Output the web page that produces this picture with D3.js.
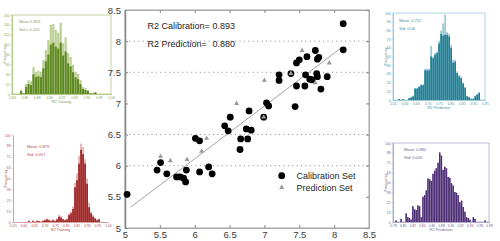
<!DOCTYPE html>
<html><head><meta charset="utf-8">
<script src="https://cdn.jsdelivr.net/npm/d3@7"></script>
<style>body{margin:0;background:#fff}svg{display:block}text{font-family:"Liberation Sans",Arial,sans-serif}</style>
</head><body>
<svg id="c" width="500" height="241"></svg>
<script>
// ---------- main scatter data ----------
const axisTicks = [5, 5.5, 6, 6.5, 7, 7.5, 8, 8.5];
const gridValues = [6, 6.5, 7.5, 8];
const calX = [5.03,5.46,5.51,5.60,5.74,5.79,5.84,5.87,5.88,6.01,6.07,6.07,6.20,6.25,6.43,6.48,6.51,6.65,6.66,6.76,6.74,6.81,6.78,6.99,7.03,7.06,7.44,7.21,7.21,7.38,7.46,7.58,7.59,7.65,7.68,7.75,7.76,7.90,7.81,7.46,7.50,7.61,7.76,7.78,7.73,8.13,8.13];
const calY = [5.54,5.93,6.05,5.87,5.82,5.82,5.80,5.74,5.93,6.44,6.40,5.90,5.98,5.87,6.64,6.56,6.78,6.26,6.43,6.43,6.59,6.57,6.88,6.78,7.01,6.96,6.95,7.46,7.37,7.48,7.28,7.28,7.46,7.39,7.38,7.48,7.43,7.43,7.23,7.65,7.70,7.75,7.71,7.74,7.85,8.28,7.86];
const predX = [5.51,5.65,5.89,6.17,6.10,6.60,6.99,7.00,7.38,7.54,7.93,7.73];
const predY = [6.15,6.08,6.10,6.44,6.23,7.00,6.78,7.37,7.48,7.85,7.65,7.33];
const fitCoef = [1.03, 0.847];      // intercept, slope
const fitRange = [5.08, 8.10];
const statLabels = ["R2 Calibration=", "R2 Prediction="];
const statValues = ["0.893", "0.880"];
const legendLabels = ["Calibration Set", "Prediction Set"];

// ---------- histogram data ----------
const greenLight = [8,2,20,28,26,55,45,47,45,69,89,109,140,142,130,124,144,103,115,83,75,59,45,41,28,14,12,8,2,2,4];
const greenDark  = [6,1,14,20,18,40,34,36,34,52,66,80,100,104,96,92,104,78,86,62,56,44,34,30,20,10,8,6,1,1,3];
const redLight = [0,2,0,2,1,2,1,1,2,3,4,3,2,3,2,4,8,7,4,3,4,10,12,18,45,56,76,90,86,72,50,22,12,8,5,3,4];
const redDark  = [0,1,0,1,0,1,1,0,1,2,3,2,1,2,1,3,6,5,3,2,3,8,10,15,40,48,67,83,78,67,44,17,10,6,4,2,3];
const tealLight = [1,0,1,0,0,2,3,5,14,14,16,18,18,36,36,36,62,50,54,56,68,80,88,98,78,76,63,46,46,33,29,27,20,15,5,4,2,2,5,7,9];
const tealDark  = [1,0,1,0,0,2,3,4,13,13,15,17,17,34,34,34,50,48,52,54,65,76,74,75,75,73,60,43,44,31,27,25,19,14,4,3,1,1,4,6,8];
const purpleCounts = [2,0,0,4,0,0,11,6,5,3,20,16,15,21,20,6,32,34,40,55,54,52,61,65,68,75,88,84,66,70,68,57,56,49,46,38,37,34,25,27,19,13,6,5,3,0,6,4,0,0,0,0,0,2];

const hists = [
  {box:[12,111,15,94], xDomain:[0.84,1.0], yMax:160, yStep:20, binStart:0.853, binWidth:0.004,
   light:greenLight, dark:greenDark, cLight:"#b9cf92", cDark:"#5f8a22", cAxis:"#b3c98c", cText:"#86a05a",
   mean:"Mean 0.893", std:"Std = 0.024", xlabel:"R2 Training", tx:7, ty:8, frame:true},
  {box:[13,108,135,222], xDomain:[0.55,1.0], yMax:100, yStep:12.5, binStart:0.612, binWidth:0.0095,
   light:redLight, dark:redDark, cLight:"#e2a9a9", cDark:"#9c1c1c", cAxis:"#d6a0a0", cText:"#b34848",
   mean:"Mean: 0.879", std:"Std: 0.057", xlabel:"R2 Training", tx:14, ty:13, frame:false},
  {box:[393,485,13,100], xDomain:[0.55,0.95], yMax:100, yStep:10, binStart:0.573, binWidth:0.0087,
   light:tealLight, dark:tealDark, cLight:"#93c8d4", cDark:"#1b7d93", cAxis:"#9ccbd6", cText:"#3f8fa2",
   mean:"Mean: 0.752", std:"Std: 0.06", xlabel:"R2 Prediction", tx:6, ty:9, frame:true},
  {box:[393,489,143,222], xDomain:[0.78,0.98], yMax:100, yStep:12.5, binStart:0.785, binWidth:0.0035,
   light:purpleCounts, dark:purpleCounts, cLight:"#8f7daf", cDark:"#4b2b73", cAxis:"#b2a6c8", cText:"#6d5f8f",
   mean:"Mean: 0.880", std:"Std: 0.026", xlabel:"R2 Prediction", tx:11, ty:8, frame:true}
];

const svg = d3.select("#c");

// ---------- histograms ----------
hists.forEach(h => {
  const [x0,x1,y0,y1] = h.box;
  const hx = d3.scaleLinear(h.xDomain, [x0, x1]);
  const hy = d3.scaleLinear([0, h.yMax], [y1, y0]);
  const g = svg.append("g");
  if (h.frame) {
    g.append("rect").attr("x",x0).attr("y",y0).attr("width",x1-x0).attr("height",y1-y0)
      .attr("fill","none").attr("stroke",h.cAxis).attr("stroke-width",0.8);
  }
  const bw = hx(h.binStart + h.binWidth) - hx(h.binStart);
  [[h.light,h.cLight],[h.dark,h.cDark]].forEach(([arr,col]) => {
    g.selectAll(null).data(arr).join("rect")
      .attr("x",(d,i)=>hx(h.binStart + i*h.binWidth))
      .attr("width",Math.max(bw-0.35,0.5))
      .attr("y",d=>hy(d)).attr("height",d=>hy(0)-hy(d))
      .attr("fill",col);
  });
  const xa = d3.axisBottom(hx).ticks(7).tickSize(1.5).tickSizeOuter(0).tickPadding(1);
  const ya = d3.axisLeft(hy).tickValues(d3.range(0,h.yMax+0.01,h.yStep)).tickSize(1.5).tickSizeOuter(0).tickPadding(1).tickFormat(d3.format(".0f"));
  const gx = g.append("g").attr("transform",`translate(0,${y1})`).call(xa);
  const gy = g.append("g").attr("transform",`translate(${x0},0)`).call(ya);
  [gx,gy].forEach(a=>{
    a.select(".domain").attr("stroke",h.cAxis);
    a.selectAll("line").attr("stroke",h.cAxis).attr("stroke-width",0.5);
    a.selectAll("text").attr("fill",h.cText).style("font-size","3.3px").attr("font-family",null);
  });
  g.append("text").attr("x",(x0+x1)/2).attr("y",y1+9).attr("text-anchor","middle")
    .style("font-size","3.8px").attr("fill",h.cText).text(h.xlabel);
  g.append("text").attr("transform",`translate(${x0-6},${(y0+y1)/2}) rotate(-90)`).attr("text-anchor","middle")
    .style("font-size","3.8px").attr("fill",h.cText).text("Frequency");
  g.append("text").attr("x",x0+h.tx).attr("y",y0+h.ty).style("font-size","4px").attr("fill",h.cText).text(h.mean);
  g.append("text").attr("x",x0+h.tx).attr("y",y0+h.ty+8).style("font-size","4px").attr("fill",h.cText).text(h.std);
});

// ---------- main scatter ----------
const x = d3.scaleLinear([5, 8.5], [125, 369]);
const y = d3.scaleLinear([5, 8.5], [228, 10]);
const m = svg.append("g");

m.selectAll(".grid").data(gridValues).join("line")
  .attr("x1",x(5)).attr("x2",x(8.5)).attr("y1",d=>y(d)).attr("y2",d=>y(d))
  .attr("stroke","#9a9a9a").attr("stroke-width",1).attr("stroke-dasharray","1.2,3.2");

m.append("rect").attr("x",x(5)).attr("y",y(8.5)).attr("width",x(8.5)-x(5)).attr("height",y(5)-y(8.5))
  .attr("fill","none").attr("stroke","#a8a8a8").attr("stroke-width",1);

const fmt = d3.format("");
const axBottom = d3.axisBottom(x).tickValues(axisTicks).tickFormat(fmt).tickSizeInner(-3).tickSizeOuter(0).tickPadding(3);
const axLeft = d3.axisLeft(y).tickValues(axisTicks).tickFormat(fmt).tickSizeInner(-3).tickSizeOuter(0).tickPadding(4);
const axTop = d3.axisTop(x).tickValues(axisTicks).tickFormat("").tickSizeInner(-3).tickSizeOuter(0);
const axRight = d3.axisRight(y).tickValues(axisTicks).tickFormat("").tickSizeInner(-3).tickSizeOuter(0);
[[axBottom,`translate(0,${y(5)})`],[axLeft,`translate(${x(5)},0)`],[axTop,`translate(0,${y(8.5)})`],[axRight,`translate(${x(8.5)},0)`]]
  .forEach(([ax,tr],k)=>{
    const a = m.append("g").attr("transform",tr).call(ax);
    a.select(".domain").attr("stroke", k===1 ? "#8c8c8c" : "#a8a8a8").attr("stroke-width", k===1 ? 1.6 : 1);
    a.selectAll("line").attr("stroke","#888");
    a.selectAll("text").attr("fill","#3a3a3a").attr("font-family",null).style("font-size","9.5px");
  });

m.append("line")
  .attr("x1",x(fitRange[0])).attr("y1",y(fitCoef[0]+fitCoef[1]*fitRange[0]))
  .attr("x2",x(fitRange[1])).attr("y2",y(fitCoef[0]+fitCoef[1]*fitRange[1]))
  .attr("stroke","#a5a5a5").attr("stroke-width",1);

m.selectAll(".cal").data(calX).join("circle")
  .attr("cx",d=>x(d)).attr("cy",(d,i)=>y(calY[i])).attr("r",3.4).attr("fill","#000");

const tri = d3.symbol().type(d3.symbolTriangle).size(11);
m.selectAll(".pred").data(predX).join("path")
  .attr("d",tri).attr("transform",(d,i)=>`translate(${x(d)},${y(predY[i])})`)
  .attr("fill","#9a9a9a");

statLabels.forEach((t,i)=>{
  m.append("text").attr("x",147.5).attr("y",28.5+i*18.5).style("font-size","9px").attr("fill","#1e1e1e").text(t);
  m.append("text").attr("x",212.5).attr("y",28.5+i*18.5).style("font-size","9px").attr("fill","#1e1e1e").text(statValues[i]);
});

m.append("circle").attr("cx",281.7).attr("cy",175.7).attr("r",3.4).attr("fill","#000");
m.append("path").attr("d",tri).attr("transform","translate(281.7,187.5)").attr("fill","#9a9a9a");
legendLabels.forEach((t,i)=>{
  m.append("text").attr("x",296.5).attr("y",179+i*12.3).style("font-size","9px").attr("fill","#1e1e1e").text(t);
});
</script>
</body></html>
